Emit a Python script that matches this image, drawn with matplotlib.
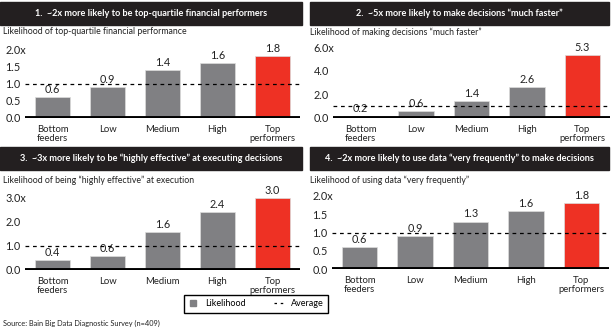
import matplotlib
matplotlib.use('Agg')
import matplotlib.pyplot as plt
from matplotlib.patches import Rectangle
from matplotlib.lines import Line2D

plt.rcParams['font.family'] = ['Lato', 'DejaVu Sans']

W, H = 614, 336

categories = ['Bottom\nfeeders', 'Low', 'Medium', 'High', 'Top\nperformers']

headers = [
    '1.  ~2x more likely to be top-quartile financial performers',
    '2.  ~5x more likely to make decisions \u201cmuch faster\u201d',
    '3.  ~3x more likely to be \u201chighly effective\u201d at executing decisions',
    '4.  ~2x more likely to use data \u201cvery frequently\u201d to make decisions',
]
subtitles = [
    'Likelihood of top-quartile financial performance',
    'Likelihood of making decisions \u201cmuch faster\u201d',
    'Likelihood of being \u201chighly effective\u201d at execution',
    'Likelihood of using data \u201cvery frequently\u201d',
]
values_financial = [0.6, 0.9, 1.4, 1.6, 1.8]
values_faster = [0.2, 0.6, 1.4, 2.6, 5.3]
values_execution = [0.4, 0.6, 1.6, 2.4, 3.0]
values_data = [0.6, 0.9, 1.3, 1.6, 1.8]
all_values = [values_financial, values_faster, values_execution, values_data]

yticks = [[0, 0.5, 1.0, 1.5, 2.0], [0, 2, 4, 6], [0, 1, 2, 3], [0, 0.5, 1.0, 1.5, 2.0]]
yticklabels = [['0.0', '0.5', '1.0', '1.5', '2.0x'],
               ['0.0', '2.0', '4.0', '6.0x'],
               ['0.0', '1.0', '2.0', '3.0x'],
               ['0.0', '0.5', '1.0', '1.5', '2.0x']]
average = 1.0

GREY = '#808083'
RED = '#ee3124'
DARK = '#231f20'

# layout in pixels: header box, subtitle pos, axes (left, right, y of zero, y of top tick)
layout = [
    dict(hdr=(0, 2, 302, 25), sub=(3, 32), ax=(25, 300, 118, 49)),
    dict(hdr=(310, 2, 609, 25), sub=(310, 32), ax=(333, 610, 118, 47)),
    dict(hdr=(0, 147, 302, 170), sub=(3, 180), ax=(25, 300, 270, 198)),
    dict(hdr=(310, 147, 609, 170), sub=(310, 180), ax=(332, 609, 269, 196)),
]


def fx(x):
    return x / W


def fy(y):
    return 1 - y / H


fig = plt.figure(figsize=(W / 100, H / 100), dpi=100)

for i in range(4):
    lay = layout[i]
    x0, y0, x1, y1 = lay['hdr']
    fig.patches.append(Rectangle((fx(x0), fy(y1)), (x1 - x0) / W, (y1 - y0) / H,
                                 transform=fig.transFigure, color=DARK, zorder=0))
    fig.text(fx((x0 + x1) / 2), fy((y0 + y1) / 2), headers[i], color='white',
             fontsize=6.6, fontweight='bold', ha='center', va='center')
    fig.text(fx(lay['sub'][0]), fy(lay['sub'][1]), subtitles[i], fontsize=6.3,
             ha='left', va='center', color='#222222')

    l, r, yb, yt = lay['ax']
    ax = fig.add_axes([fx(l), fy(yb), (r - l) / W, (yb - yt) / H])
    vals = all_values[i]
    colors = [GREY] * 4 + [RED]
    bars = ax.bar(range(len(vals)), vals, width=0.64, color=colors, zorder=2,
                  edgecolor='#dcdcdc', linewidth=0.5)
    ax.bar_label(bars, labels=['%.1f' % v for v in vals], padding=1.5, fontsize=7.8,
                 color='#222222')
    ax.axhline(average, color='black', lw=0.9, ls=(0, (3, 3)), zorder=3)
    ax.axhline(0, color='black', lw=2.8, zorder=4)
    ax.set_xlim(-0.5, 4.5)
    ax.set_ylim(0, yticks[i][-1])
    ax.set_yticks(yticks[i])
    ax.set_yticklabels(yticklabels[i], fontsize=7.8, ha='left', color='#222222')
    ax.tick_params(axis='y', length=0, pad=14)
    ax.set_xticks(range(len(categories)))
    ax.set_xticklabels(categories, fontsize=6.8, linespacing=0.95, color='#222222')
    ax.tick_params(axis='x', length=0, pad=5)
    for s in ax.spines.values():
        s.set_visible(False)
    ax.patch.set_alpha(0)

handles = [
    Line2D([], [], marker='s', color=GREY, ls='none', markersize=5),
    Line2D([], [], color='black', lw=0.9, ls=(0, (2, 3))),
]
fig.legend(handles, ['Likelihood', 'Average'], loc='center',
           bbox_to_anchor=(fx(256), fy(304)), ncol=2, fontsize=6.5,
           frameon=True, fancybox=False, edgecolor='black', framealpha=1,
           handlelength=1.0, columnspacing=3.2, handletextpad=0.8, borderpad=0.5)

fig.text(fx(3), fy(323), 'Source: Bain Big Data Diagnostic Survey (n=409)',
         fontsize=5.3, ha='left', va='center', color='#222222')

fig.savefig('out.png', dpi=100)
